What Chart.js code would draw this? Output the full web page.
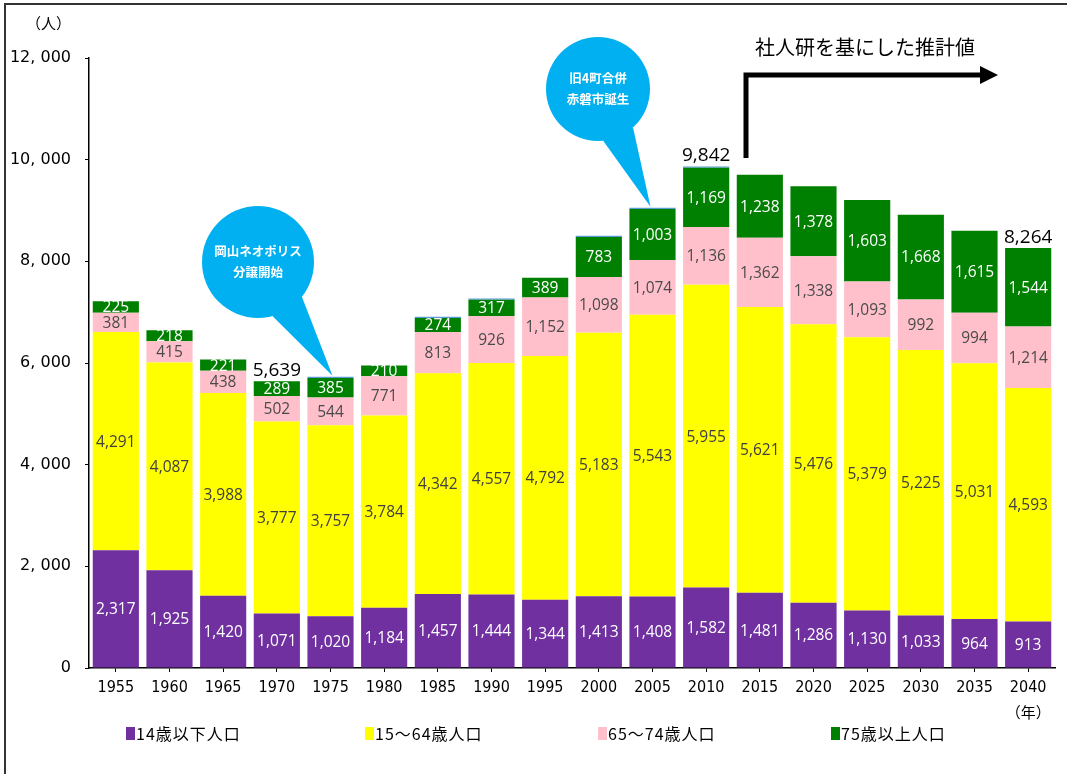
<!DOCTYPE html>
<html lang="ja">
<head>
<meta charset="UTF-8" />
<title>人口推移</title>
<script src="https://cdn.jsdelivr.net/npm/chart.js"></script>
<style>
  html, body { margin: 0; padding: 0; background: #fff; }
  #wrap { position: relative; width: 1067px; height: 774px; }
  canvas { display: block; }
</style>
</head>
<body>
<div id="wrap"><canvas id="chart" width="1067" height="774"></canvas></div>
<script>
const years = ["1955","1960","1965","1970","1975","1980","1985","1990","1995","2000","2005","2010","2015","2020","2025","2030","2035","2040"];
const age0to14 = [2317,1925,1420,1071,1020,1184,1457,1444,1344,1413,1408,1582,1481,1286,1130,1033,964,913];
const age15to64 = [4291,4087,3988,3777,3757,3784,4342,4557,4792,5183,5543,5955,5621,5476,5379,5225,5031,4593];
const age65to74 = [381,415,438,502,544,771,813,926,1152,1098,1074,1136,1362,1338,1093,992,994,1214];
const age75plus = [225,218,221,289,385,210,274,317,389,783,1003,1169,1238,1378,1603,1668,1615,1544];
const unknownAge = [0,0,0,0,25,0,25,25,0,25,25,25,0,0,0,0,0,0];
const totalLabels = {"1970": "5,639", "2010": "9,842", "2040": "8,264"};
const yTicks = [0,2000,4000,6000,8000,10000,12000];

const seriesNames = ["14歳以下人口","15～64歳人口","65～74歳人口","75歳以上人口"];
const colors = ["#7030a0","#ffff00","#ffc0cb","#008000"];
const labelColors = ["#ffffff","#404040","#4a4a4a","#ffffff"];

const fmt = v => v.toLocaleString("en-US");

const labelPlugin = {
  id: "labels",
  afterDatasetsDraw(chart) {
    const ctx = chart.ctx;
    ctx.save();
    ctx.textAlign = "center";
    ctx.textBaseline = "middle";
    ctx.font = "15.5px 'Open Sans', 'Noto Sans', sans-serif";
    for (let d = 0; d < 4; d++) {
      const meta = chart.getDatasetMeta(d);
      meta.data.forEach((bar, i) => {
        const y = (bar.y + bar.base) / 2;
        ctx.fillStyle = labelColors[d];
        ctx.fillText(fmt(chart.data.datasets[d].data[i]), bar.x, y + 1);
      });
    }
    // totals
    ctx.fillStyle = "#000";
    ctx.font = "19px 'Open Sans', 'Noto Sans', sans-serif";
    ctx.textBaseline = "bottom";
    years.forEach((yr, i) => {
      if (!totalLabels[yr]) return;
      const meta = chart.getDatasetMeta(4);
      const bar = chart.getDatasetMeta(3).data[i];
      const top = Math.min(bar.y, meta.data[i].y);
      ctx.fillText(totalLabels[yr], bar.x, top - 1);
    });
    ctx.restore();
  }
};

function bubble(ctx, cx, cy, r, tipX, tipY, lines) {
  ctx.save();
  ctx.fillStyle = "#00b0f0";
  ctx.beginPath();
  ctx.arc(cx, cy, r, 0, Math.PI * 2);
  ctx.fill();
  const ang = Math.atan2(tipY - cy, tipX - cx);
  const spread = 0.32;
  ctx.beginPath();
  ctx.moveTo(cx + r * Math.cos(ang - spread), cy + r * Math.sin(ang - spread));
  ctx.lineTo(tipX, tipY);
  ctx.lineTo(cx + r * Math.cos(ang + spread), cy + r * Math.sin(ang + spread));
  ctx.closePath();
  ctx.fill();
  ctx.fillStyle = "#fff";
  ctx.font = "bold 12.5px 'Noto Sans CJK JP', sans-serif";
  ctx.textAlign = "center";
  ctx.textBaseline = "middle";
  lines.forEach((t, k) => ctx.fillText(t, cx, cy + (k - (lines.length - 1) / 2) * 21));
  ctx.restore();
}

const decorPlugin = {
  id: "decor",
  afterDraw(chart) {
    const ctx = chart.ctx;
    const xs = chart.scales.x, ys = chart.scales.y;
    ctx.save();
    // frame
    ctx.strokeStyle = "#333";
    ctx.lineWidth = 2;
    ctx.beginPath();
    ctx.moveTo(5, 774);
    ctx.lineTo(5, 4);
    ctx.lineTo(1067, 4);
    ctx.stroke();

    ctx.fillStyle = "#000";
    ctx.font = "15px 'Noto Sans CJK JP', sans-serif";
    ctx.textAlign = "left";
    ctx.textBaseline = "middle";
    ctx.fillText("（人）", 26, 23);
    ctx.textAlign = "center";
    ctx.fillText("（年）", xs.getPixelForValue(17), 712);

    // legend
    const lx = [126, 365, 598, 831];
    ctx.font = "16px 'Noto Sans CJK JP', sans-serif";
    ctx.textAlign = "left";
    ctx.letterSpacing = "1px";
    seriesNames.forEach((n, k) => {
      ctx.fillStyle = colors[k];
      ctx.fillRect(lx[k], 727, 9, 13);
      ctx.fillStyle = "#000";
      ctx.fillText(n, lx[k] + 10, 734);
    });
    ctx.letterSpacing = "0px";

    // callouts
    const top1975 = ys.getPixelForValue(age0to14[4] + age15to64[4] + age65to74[4] + age75plus[4] + unknownAge[4]);
    bubble(ctx, 258, 262, 56, xs.getPixelForValue(4) + 2, top1975 - 1, ["岡山ネオポリス", "分譲開始"]);
    const top2005 = ys.getPixelForValue(age0to14[10] + age15to64[10] + age65to74[10] + age75plus[10] + unknownAge[10]);
    bubble(ctx, 598, 89, 52, xs.getPixelForValue(10) - 2, top2005 - 1, ["旧4町合併", "赤磐市誕生"]);

    // arrow
    ctx.strokeStyle = "#000";
    ctx.fillStyle = "#000";
    ctx.lineWidth = 5;
    ctx.beginPath();
    ctx.moveTo(746, 158);
    ctx.lineTo(746, 75);
    ctx.lineTo(982, 75);
    ctx.stroke();
    ctx.beginPath();
    ctx.moveTo(980, 66);
    ctx.lineTo(998, 75);
    ctx.lineTo(980, 84);
    ctx.closePath();
    ctx.fill();
    ctx.font = "20px 'Noto Sans CJK JP', sans-serif";
    ctx.textAlign = "left";
    ctx.fillText("社人研を基にした推計値", 755, 47);
    ctx.restore();
  }
};

const datasets = [age0to14, age15to64, age65to74, age75plus].map((arr, k) => ({
  label: seriesNames[k],
  data: arr,
  backgroundColor: colors[k],
  borderWidth: 0
}));
datasets.push({ label: "不詳", data: unknownAge, backgroundColor: "#5b9bd5", borderWidth: 0 });

new Chart(document.getElementById("chart"), {
  type: "bar",
  data: { labels: years, datasets },
  options: {
    responsive: false,
    animation: false,
    layout: { padding: { top: 58, right: 12, left: 0, bottom: 0 } },
    datasets: { bar: { barPercentage: 0.86, categoryPercentage: 1 } },
    plugins: { legend: { display: false }, tooltip: { enabled: false } },
    scales: {
      x: {
        stacked: true,
        grid: { display: true, drawOnChartArea: false, offset: false, tickLength: 4, color: "#000" },
        border: { color: "#000", width: 1.5 },
        ticks: { color: "#000", padding: 6, font: { size: 16, family: "'Liberation Sans Narrow', 'DejaVu Sans Condensed', sans-serif" } },
        afterFit(s) { s.height = 106; }
      },
      y: {
        stacked: true,
        min: 0,
        max: 12000,
        afterBuildTicks(s) { s.ticks = yTicks.map(v => ({ value: v })); },
        grid: { display: true, drawOnChartArea: false, tickLength: 4, color: "#000" },
        border: { color: "#000", width: 1.5 },
        ticks: {
          color: "#000",
          padding: 14,
          font: { size: 16, family: "'DejaVu Sans', sans-serif" },
          callback: v => v === 0 ? "0" : fmt(v).replace(",", ", ")
        },
        afterFit(s) { s.width = 89; }
      }
    }
  },
  plugins: [labelPlugin, decorPlugin]
});
</script>
</body>
</html>
